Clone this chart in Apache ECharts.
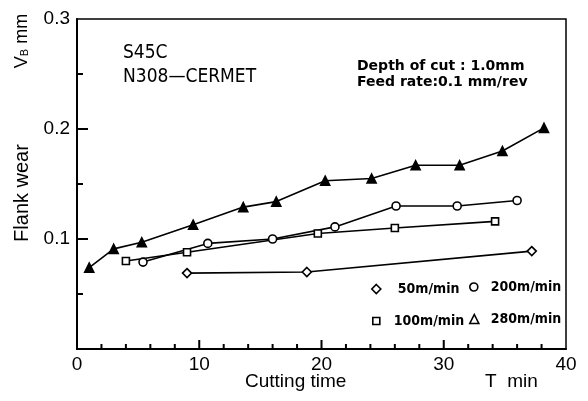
<!DOCTYPE html>
<html>
<head>
<meta charset="utf-8">
<script src="https://cdn.jsdelivr.net/npm/echarts@6/dist/echarts.min.js"></script>
<style>
  html, body { margin: 0; padding: 0; background: #fff; }
  #chart { width: 588px; height: 401px; }
</style>
</head>
<body>
<div id="chart"></div>
<script>
// Flank wear (mm) vs cutting time (min) at four cutting speeds
const seriesNames = ['50m/min', '100m/min', '200m/min', '280m/min'];

const time50 = [9.0, 18.8, 37.2];
const wear50 = [0.069, 0.070, 0.089];

const time100 = [4.0, 9.0, 19.7, 26.0, 34.2];
const wear100 = [0.080, 0.088, 0.105, 0.110, 0.116];

const time200 = [5.4, 10.7, 16.0, 21.1, 26.1, 31.1, 36.0];
const wear200 = [0.079, 0.096, 0.100, 0.111, 0.130, 0.130, 0.135];

const time280 = [1.0, 3.0, 5.3, 9.5, 13.6, 16.3, 20.3, 24.1, 27.7, 31.3, 34.8, 38.2];
const wear280 = [0.074, 0.091, 0.097, 0.113, 0.129, 0.134, 0.153, 0.155, 0.167, 0.167, 0.180, 0.201];

const xTicks = [0, 10, 20, 30, 40];
const yTicks = [0.1, 0.2, 0.3];

// tick mark positions drawn on the inside of the frame
const xMajorTicks = [10, 20, 30];
const xMinorTicks = [2, 4, 6, 8, 12, 14, 16, 18, 22, 24, 26, 28, 32, 34, 36, 38];
const yMajorTicks = [0.1, 0.2];
const yMinorTicks = [0.05, 0.15, 0.25];

function pairs(xs, ys) { return xs.map((x, i) => [x, ys[i]]); }

const black = '#000';
const font = 'Liberation Sans, Arial, sans-serif';
const narrow = 'DejaVu Sans Condensed, DejaVu Sans, sans-serif';
const xMin = xTicks[0], xMax = xTicks[xTicks.length - 1];
const yMin = 0, yMax = yTicks[yTicks.length - 1];

function lineSeries(name, data, symbol, size, fill) {
  return {
    name: name,
    type: 'line',
    data: data,
    symbol: symbol,
    symbolSize: size,
    showAllSymbol: true,
    animation: false,
    lineStyle: { color: black, width: 1.6 },
    itemStyle: { color: fill, borderColor: black, borderWidth: 1.6 }
  };
}

// short inward strokes from the bottom axis (vertical) or left axis (horizontal)
function tickSeries(values, onX, len) {
  return {
    type: 'custom',
    silent: true,
    animation: false,
    z: 5,
    data: values.map(v => (onX ? [v, yMin] : [xMin, v])),
    renderItem: function (params, api) {
      const p = api.coord([api.value(0), api.value(1)]);
      return {
        type: 'line',
        shape: onX
          ? { x1: p[0], y1: p[1], x2: p[0], y2: p[1] - len }
          : { x1: p[0], y1: p[1], x2: p[0] + len, y2: p[1] },
        style: { stroke: black, lineWidth: 2 }
      };
    }
  };
}

// one legend block per speed so each entry sits at its own spot
function legendFor(name, icon, left, top, size, gap) {
  return {
    data: [{ name: name, icon: icon, itemStyle: { color: '#fff', borderColor: black, borderWidth: 1.6 } }],
    left: left, top: top,
    itemWidth: size, itemHeight: size,
    selectedMode: false,
    textStyle: { color: black, fontSize: 14, fontWeight: 'bold', fontFamily: narrow, padding: [0, 0, 0, gap] }
  };
}

const chart = echarts.init(document.getElementById('chart'), null, { renderer: 'canvas' });

chart.setOption({
  backgroundColor: '#fff',
  animation: false,
  grid: { left: 77, right: 22, top: 19, bottom: 52, show: true, borderColor: black, borderWidth: 1.5 },
  xAxis: {
    type: 'value', min: xMin, max: xMax, interval: 10,
    axisLine: { show: true, onZero: false, lineStyle: { color: black, width: 2 } },
    axisTick: { show: false },
    minorTick: { show: false },
    splitLine: { show: false },
    axisLabel: { color: black, fontSize: 19, fontFamily: font, margin: 6 }
  },
  yAxis: {
    type: 'value', min: yMin, max: yMax, interval: 0.1,
    axisLine: { show: true, onZero: false, lineStyle: { color: black, width: 2 } },
    axisTick: { show: false },
    minorTick: { show: false },
    splitLine: { show: false },
    axisLabel: { color: black, fontSize: 19, fontFamily: font, margin: 7, showMinLabel: false, formatter: v => v.toFixed(1) }
  },
  legend: [
    legendFor(seriesNames[0], 'diamond', 366, 277, 9, 12),
    legendFor(seriesNames[2], 'circle', 464, 275, 8, 8),
    legendFor(seriesNames[1], 'rect', 367, 309, 7, 9),
    legendFor(seriesNames[3], 'triangle', 464, 307, 9, 7)
  ],
  series: [
    lineSeries(seriesNames[0], pairs(time50, wear50), 'diamond', 9, '#fff'),
    lineSeries(seriesNames[1], pairs(time100, wear100), 'rect', 7, '#fff'),
    lineSeries(seriesNames[2], pairs(time200, wear200), 'circle', 8, '#fff'),
    lineSeries(seriesNames[3], pairs(time280, wear280), 'triangle', 9, black),
    tickSeries(xMajorTicks, true, 9),
    tickSeries(xMinorTicks, true, 5),
    tickSeries(yMajorTicks, false, 11),
    tickSeries(yMinorTicks, false, 6)
  ],
  graphic: [
    { type: 'text', left: 123, top: 44, style: { text: 'S45C', fill: black, font: '19px ' + narrow } },
    { type: 'text', left: 123, top: 68, style: { text: 'N308—CERMET', fill: black, font: '19px ' + narrow } },
    { type: 'text', left: 357, top: 59, style: { text: 'Depth of cut : 1.0mm', fill: black, font: 'bold 14px DejaVu Sans, sans-serif' } },
    { type: 'text', left: 357, top: 75, style: { text: 'Feed rate:0.1 mm/rev', fill: black, font: 'bold 14px DejaVu Sans, sans-serif' } },
    { type: 'text', x: 22, y: 193, rotation: Math.PI / 2,
      style: { text: 'Flank wear', fill: black, font: '20px ' + font, align: 'center', verticalAlign: 'middle' } },
    { type: 'text', x: 22, y: 41, rotation: Math.PI / 2,
      style: {
        text: '{v|V}{b|B}{v| mm}', align: 'center', verticalAlign: 'middle',
        rich: {
          v: { fill: black, font: '18px ' + font },
          b: { fill: black, font: '11px ' + font, padding: [6, 0, 0, 0] }
        }
      } },
    { type: 'text', left: 245, top: 372, style: { text: 'Cutting time', fill: black, font: '19px ' + font } },
    { type: 'text', left: 485, top: 372, style: { text: 'T  min', fill: black, font: '19px ' + font } }
  ]
});
</script>
</body>
</html>
